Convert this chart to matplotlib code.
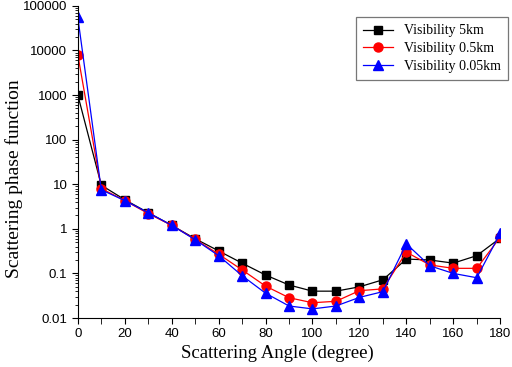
import numpy as np
import matplotlib.pyplot as plt
from matplotlib.ticker import FuncFormatter, MultipleLocator, LogLocator

# data
angles = [0, 10, 20, 30, 40, 50, 60, 70, 80, 90, 100, 110, 120, 130, 140, 150, 160, 170, 180]
vis_5km = [1000, 9.5, 4.5, 2.3, 1.2, 0.6, 0.32, 0.17, 0.092, 0.055, 0.040, 0.040,
           0.050, 0.072, 0.21, 0.20, 0.17, 0.25, 0.62]
vis_05km = [8000, 8.0, 4.3, 2.2, 1.2, 0.58, 0.27, 0.12, 0.052, 0.0285, 0.022, 0.0237,
            0.041, 0.045, 0.30, 0.155, 0.13, 0.13, 0.65]
vis_005km = [55000, 7.5, 4.3, 2.3, 1.2, 0.57, 0.25, 0.089, 0.036, 0.0186, 0.016, 0.0186,
             0.029, 0.039, 0.46, 0.148, 0.10, 0.080, 0.79]

serif = 'Liberation Serif'
sans = 'Liberation Sans'

fig = plt.figure(figsize=(5.12, 3.67), dpi=100)
ax = fig.add_axes([0.152, 0.1335, 0.825, 0.8505])

ax.plot(angles, vis_5km, '-s', color='black', lw=0.9, ms=6, label='Visibility 5km')
ax.plot(angles, vis_05km, '-o', color='red', lw=0.9, ms=6.5, label='Visibility 0.5km')
ax.plot(angles, vis_005km, '-^', color='blue', lw=0.9, ms=7, label='Visibility 0.05km')

ax.set_yscale('log')
ax.set_xlim(0, 180)
ax.set_ylim(0.01, 100000)
ax.xaxis.set_major_locator(MultipleLocator(20))
ax.xaxis.set_minor_locator(MultipleLocator(10))
ax.yaxis.set_major_locator(LogLocator(base=10, numticks=10))
ax.yaxis.set_minor_locator(LogLocator(base=10, subs=np.arange(2, 10), numticks=20))
ax.yaxis.set_major_formatter(FuncFormatter(lambda v, p: f'{v:g}' if v < 1e5 else '100000'))

for s in ['top', 'right']:
    ax.spines[s].set_visible(False)
ax.tick_params(which='both', direction='out', labelsize=9.5)
ax.tick_params(which='major', length=4)
ax.tick_params(which='minor', length=2.5)
ax.tick_params(axis='x', which='minor', length=4)
for lab in ax.get_xticklabels() + ax.get_yticklabels():
    lab.set_fontfamily(sans)

ax.set_xlabel('Scattering Angle (degree)', fontfamily=serif, fontsize=13.5)
ax.set_ylabel('Scattering phase function', fontfamily=serif, fontsize=14)
ax.xaxis.set_label_coords(0.472, -0.085)
ax.yaxis.set_label_coords(-0.13, 0.445)

leg = ax.legend(loc='upper right', bbox_to_anchor=(1.035, 0.985), prop={'family': serif, 'size': 10},
                fancybox=False, edgecolor='#555555', handlelength=2.2, borderpad=0.5,
                labelspacing=0.35)
leg.get_frame().set_linewidth(0.9)

fig.savefig('out.png', dpi=100)
